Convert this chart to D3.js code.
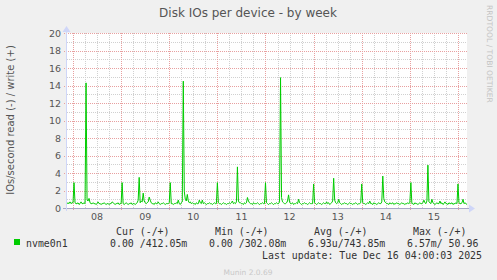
<!DOCTYPE html>
<html>
<head>
<meta charset="utf-8">
<script src="https://cdn.jsdelivr.net/npm/d3@7"></script>
<style>
body { margin: 0; background: #f0f0f0; }
svg { display: block; }
text { font-family: "DejaVu Sans", sans-serif; }
.mono { font-family: "DejaVu Sans Mono", monospace; }
</style>
</head>
<body>
<script>
var w = 497;
var h = 280;

// write IOs/second, one value every 30 minutes from Dec 7 21:00
var day07 = [0.5,0.6,0.5,0.7,0.5,0.6];
var day08 = [0.6,2.9,0.6,0.5,0.5,0.6,0.4,0.5,0.7,0.5,0.5,0.6,0.5,14.3,0.9,0.8,1.1,0.6,0.5,0.5,0.6,0.5,0.5,0.4,0.5,0.7,0.5,0.5,0.4,0.5,0.5,0.6,0.5,0.4,0.5,0.5,0.4,0.5,0.5,0.7,0.6,0.5,0.4,0.5,0.5,0.6,0.4,0.5];
var day09 = [0.5,2.9,0.5,0.4,0.5,0.6,0.5,0.4,0.5,0.5,0.6,0.4,0.5,0.5,0.4,0.5,0.6,0.9,3.5,0.6,0.8,0.7,1.7,0.8,0.6,0.5,0.6,0.7,1.25,0.9,0.6,0.5,0.5,0.4,0.6,0.5,0.5,0.7,0.5,0.4,0.5,0.5,0.6,0.5,0.4,0.5,0.5,0.5];
var day10 = [0.6,2.9,0.5,0.5,0.4,0.5,0.5,0.6,0.5,0.9,0.5,0.4,0.6,0.7,14.5,1.9,1.0,0.8,1.55,0.8,0.6,0.7,0.5,0.6,0.5,0.5,0.4,0.6,0.5,0.5,0.9,0.6,0.5,0.9,0.5,0.6,0.5,0.4,0.5,0.5,0.6,0.5,0.5,0.4,0.5,0.6,0.5,0.5];
var day11 = [2.9,0.6,0.5,0.5,0.4,0.5,0.6,0.5,0.5,0.4,0.5,0.5,0.6,0.5,0.6,0.8,0.5,0.6,0.5,0.7,4.7,0.8,0.6,0.6,0.5,0.5,0.4,0.6,0.5,0.6,1.2,0.8,0.6,0.5,0.5,0.4,0.6,0.5,0.5,0.5,0.6,0.5,0.4,0.5,0.5,0.6,0.5,0.5];
var day12 = [2.9,0.6,0.5,0.4,0.5,0.5,0.6,0.5,0.4,0.5,0.5,0.6,0.5,0.5,0.7,14.9,1.2,0.7,0.6,0.5,0.5,0.6,0.8,1.5,0.7,0.5,0.5,0.6,0.4,0.5,0.5,0.6,0.5,1.0,0.6,0.5,0.4,0.5,0.5,0.6,0.5,0.5,0.4,0.5,0.6,0.5,0.5,0.5];
var day13 = [2.75,0.6,0.5,0.4,0.5,0.6,0.5,0.5,0.4,0.5,0.6,0.5,0.5,0.7,0.5,0.6,0.4,0.5,0.6,0.8,3.4,0.9,0.6,0.5,0.6,1.0,0.6,0.5,0.4,0.5,0.5,0.6,0.5,0.5,0.4,0.5,0.6,0.5,0.5,0.4,0.5,0.5,0.6,0.5,0.4,0.5,0.5,0.6];
var day14 = [2.75,0.6,0.5,0.5,0.4,0.5,0.6,0.5,0.8,0.5,0.5,0.4,0.6,0.5,0.5,0.4,0.5,0.6,0.5,0.5,0.7,3.65,1.1,0.7,0.6,0.5,0.5,0.4,0.6,0.5,0.5,0.6,0.4,0.5,0.5,0.6,0.5,0.5,0.4,0.5,0.6,0.5,0.5,0.4,0.5,0.5,0.6,0.5];
var day15 = [0.6,2.9,0.5,0.5,0.4,0.6,0.5,0.5,0.4,0.5,0.6,0.5,0.5,0.6,0.9,0.6,0.5,0.8,4.9,0.7,0.6,0.5,1.0,0.6,0.5,0.4,0.5,0.6,0.5,0.5,0.8,0.5,0.6,0.4,0.5,0.7,0.5,0.5,0.4,0.6,0.5,0.5,0.6,0.4,0.5,0.5,0.6,0.5];
var day16 = [2.75,0.6,0.5,0.5,0.6,1.0,0.5,0.6,0.5,0.4];

var yTicks = [0,2,4,6,8,10,12,14,16,18,20];
var legendHead = ["Cur (-/+)", "Min (-/+)", "Avg (-/+)", "Max (-/+)"];
var legendVals = ["0.00 /412.05m", "0.00 /302.08m", "6.93u/743.85m", "6.57m/ 50.96"];

var writes = [].concat(day07, day08, day09, day10, day11, day12, day13, day14, day15, day16);
var t0 = Date.UTC(2025, 11, 7, 21, 0);
var step = 30 * 60 * 1000;
var series = writes.map(function (v, i) { return { t: new Date(t0 + i * step), v: v }; });

var pl = 67, pr = 467, pt = 33, pb = 208;

var x = d3.scaleUtc()
    .domain([new Date(t0), new Date(t0 + 399 * step)])
    .range([pl, pr]);
var y = d3.scaleLinear().domain([0, 20]).range([pb, pt]);

var svg = d3.select("body").append("svg")
    .attr("width", w)
    .attr("height", h);

svg.append("rect").attr("width", w).attr("height", h).attr("fill", "#f0f0f0");
svg.append("rect")
    .attr("x", pl).attr("y", pt)
    .attr("width", pr - pl).attr("height", pb - pt)
    .attr("fill", "#ffffff");

// minor grid
var hours6 = d3.utcHour.every(6).range(x.domain()[0], x.domain()[1]);
svg.selectAll(".vminor").data(hours6).enter().append("line")
    .attr("x1", function (d) { return Math.round(x(d)) + 0.5; })
    .attr("x2", function (d) { return Math.round(x(d)) + 0.5; })
    .attr("y1", pt).attr("y2", pb)
    .attr("stroke", "#d0d0d0").attr("stroke-dasharray", "1,1");
svg.selectAll(".hminor").data(d3.range(1, 20, 2)).enter().append("line")
    .attr("x1", pl).attr("x2", pr)
    .attr("y1", function (d) { return Math.round(y(d)) + 0.5; })
    .attr("y2", function (d) { return Math.round(y(d)) + 0.5; })
    .attr("stroke", "#d0d0d0").attr("stroke-dasharray", "1,1");

// major grid
var days = d3.utcDay.range(x.domain()[0], x.domain()[1]);
svg.selectAll(".vmajor").data(days).enter().append("line")
    .attr("x1", function (d) { return Math.round(x(d)) + 0.5; })
    .attr("x2", function (d) { return Math.round(x(d)) + 0.5; })
    .attr("y1", pt).attr("y2", pb + 3)
    .attr("stroke", "#e8a0a0").attr("stroke-dasharray", "1,1");
svg.selectAll(".hmajor").data(yTicks.slice(1)).enter().append("line")
    .attr("x1", pl - 3).attr("x2", pr)
    .attr("y1", function (d) { return Math.round(y(d)) + 0.5; })
    .attr("y2", function (d) { return Math.round(y(d)) + 0.5; })
    .attr("stroke", "#e8a0a0").attr("stroke-dasharray", "1,1");

// y tick labels
svg.selectAll(".ylab").data(yTicks).enter().append("text")
    .attr("x", pl - 6)
    .attr("y", function (d) { return y(d) + 3.5; })
    .attr("text-anchor", "end")
    .attr("font-size", "9.5px")
    .attr("fill", "#555")
    .text(function (d) { return d; });

// x labels at noon
var noons = days.map(function (d) { return d3.utcHour.offset(d, 12); })
    .filter(function (d) { return x(d) < pr; });
svg.selectAll(".xlab").data(noons).enter().append("text")
    .attr("x", function (d) { return x(d); })
    .attr("y", 220)
    .attr("text-anchor", "middle")
    .attr("font-size", "9.5px")
    .attr("fill", "#555")
    .text(d3.utcFormat("%d"));

// the series
var line = d3.line()
    .x(function (d) { return x(d.t); })
    .y(function (d) { return y(d.v); });
svg.append("path")
    .datum(series)
    .attr("d", line)
    .attr("fill", "none")
    .attr("stroke", "#00cc00")
    .attr("stroke-width", 1);

// axes with arrows
svg.append("line")
    .attr("x1", pl - 4).attr("x2", pr + 3)
    .attr("y1", pb + 0.5).attr("y2", pb + 0.5)
    .attr("stroke", "#a8a8c8");
svg.append("line")
    .attr("x1", pl - 0.5).attr("x2", pl - 0.5)
    .attr("y1", pb + 3).attr("y2", pt - 3)
    .attr("stroke", "#cfd6f8");
svg.append("path")
    .attr("d", "M" + (pr + 2) + "," + (pb - 3.5) + "L" + (pr + 8) + "," + (pb + 0.5) + "L" + (pr + 2) + "," + (pb + 4.5) + "Z")
    .attr("fill", "#cfd6f8");
svg.append("path")
    .attr("d", "M" + (pl - 4.5) + "," + (pt - 1) + "L" + (pl - 0.5) + "," + (pt - 7) + "L" + (pl + 3.5) + "," + (pt - 1) + "Z")
    .attr("fill", "#cfd6f8");

// title and labels
svg.append("text")
    .attr("x", 248).attr("y", 17)
    .attr("text-anchor", "middle")
    .attr("font-size", "12px")
    .attr("fill", "#555")
    .text("Disk IOs per device - by week");

svg.append("text")
    .attr("transform", "translate(14,120) rotate(-90)")
    .attr("text-anchor", "middle")
    .attr("font-size", "10px")
    .attr("fill", "#555")
    .text("IOs/second read (-) / write (+)");

svg.append("text")
    .attr("transform", "translate(487,5) rotate(90)")
    .attr("text-anchor", "start")
    .attr("font-size", "7.6px")
    .attr("fill", "#c4c4c4")
    .text("RRDTOOL / TOBI OETIKER");

// legend
svg.append("rect")
    .attr("x", 14).attr("y", 239)
    .attr("width", 6).attr("height", 6)
    .attr("fill", "#00cc00");
svg.append("text").attr("class", "mono")
    .attr("x", 26).attr("y", 247)
    .attr("font-size", "9.9px").attr("fill", "#333")
    .text("nvme0n1");

var colX = [110, 209, 308, 407];
svg.selectAll(".lhead").data(legendHead).enter().append("text")
    .attr("class", "mono")
    .attr("x", function (d, i) { return colX[i] + 6; })
    .attr("y", 235)
    .attr("font-size", "9.9px").attr("fill", "#333")
    .text(function (d) { return d; });
svg.selectAll(".lval").data(legendVals).enter().append("text")
    .attr("class", "mono")
    .attr("x", function (d, i) { return colX[i]; })
    .attr("y", 247)
    .attr("font-size", "9.9px").attr("fill", "#333")
    .text(function (d) { return d; });

svg.append("text").attr("class", "mono")
    .attr("x", 482).attr("y", 259)
    .attr("text-anchor", "end")
    .attr("font-size", "9.9px").attr("fill", "#333")
    .text("Last update: Tue Dec 16 04:00:03 2025");

svg.append("text")
    .attr("x", 248).attr("y", 275)
    .attr("text-anchor", "middle")
    .attr("font-size", "7.5px")
    .attr("fill", "#c8c8c8")
    .text("Munin 2.0.69");
</script>
</body>
</html>
